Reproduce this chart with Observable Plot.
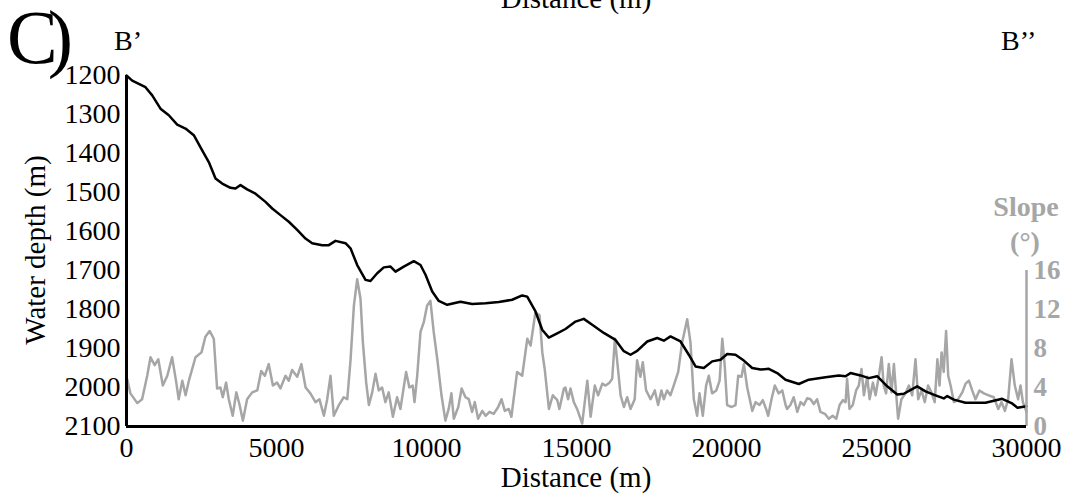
<!DOCTYPE html>
<html>
<head>
<meta charset="utf-8">
<script src="https://cdn.jsdelivr.net/npm/d3@7"></script>
<script src="https://cdn.jsdelivr.net/npm/@observablehq/plot@0.6"></script>
<style>
  html, body { margin: 0; padding: 0; background: #fff; overflow: hidden; }
  #wrap { position: relative; width: 1069px; height: 493px; }
  #wrap > svg { position: absolute; left: 0; top: 0; }
  #overlay { pointer-events: none; font-family: "Liberation Serif", "Times New Roman", serif; }
</style>
</head>
<body>
<div id="wrap"></div>
<script>
// ---- Data ----
const distTicks = [0, 5000, 10000, 15000, 20000, 25000, 30000];
const depthTicks = [1200, 1300, 1400, 1500, 1600, 1700, 1800, 1900, 2000, 2100];
const slopeTicks = [0, 4, 8, 12, 16];

// Water depth profile (black)
const depthDist = [0,190,633,857,1133,1410,1690,1967,2243,2523,2743,2967,3190,3467,3633,3800,4023,4300,4633,4857,5133,5410,5690,5967,6190,6523,6743,6967,7300,7467,7690,7967,8133,8357,8577,8800,8967,9243,9577,9800,9967,10190,10410,10690,11133,11523,11967,12410,12857,13190,13357,13633,13857,14077,14357,14633,14967,15243,15523,15910,16300,16577,16800,17023,17357,17690,17910,18133,18467,18743,18967,19243,19523,19800,20023,20300,20577,20857,21133,21410,21690,21967,22410,22743,23300,23743,23967,24133,24467,24743,25023,25357,25690,25910,26357,26633,26967,27243,27357,27577,27967,28633,29190,29500,29700,30000];
const depthVal = [1200,1213,1230,1251,1285,1302,1326,1336,1353,1392,1422,1464,1477,1488,1490,1481,1492,1503,1524,1541,1558,1575,1596,1618,1630,1635,1635,1624,1630,1643,1686,1724,1727,1707,1692,1690,1703,1690,1676,1686,1711,1754,1778,1788,1780,1786,1784,1781,1775,1764,1767,1805,1852,1872,1861,1850,1831,1824,1839,1860,1878,1907,1916,1906,1882,1873,1880,1869,1882,1916,1946,1950,1933,1929,1914,1916,1931,1950,1954,1952,1963,1980,1991,1980,1974,1969,1971,1963,1969,1976,1971,1997,2018,2016,1997,2010,2020,2028,2022,2031,2039,2039,2029,2040,2052,2048];

// Slope profile (grey, degrees)
const slopeDist = [20,130,360,520,690,800,940,1060,1210,1360,1520,1660,1740,1860,1970,2080,2300,2500,2630,2770,2910,3020,3130,3210,3320,3410,3540,3660,3770,3880,4020,4190,4360,4490,4610,4740,4880,5020,5130,5300,5410,5520,5690,5830,5970,6130,6300,6430,6580,6690,6800,6910,7080,7240,7360,7470,7580,7690,7800,7880,7990,8080,8190,8300,8410,8520,8630,8740,8880,9020,9130,9320,9430,9540,9600,9690,9800,9910,10020,10130,10240,10360,10500,10630,10740,10830,10910,11060,11170,11300,11410,11520,11610,11720,11860,11970,12100,12240,12390,12500,12610,12740,12830,13020,13190,13360,13470,13630,13770,13860,13940,14080,14210,14360,14430,14580,14630,14720,14800,14910,15020,15190,15360,15470,15610,15720,15860,15970,16100,16190,16280,16360,16470,16580,16690,16800,16940,17020,17130,17210,17320,17470,17610,17720,17830,17910,18020,18130,18240,18390,18520,18690,18800,18910,19020,19100,19210,19320,19410,19520,19660,19770,19860,19940,20020,20170,20300,20390,20500,20580,20690,20860,20970,21100,21210,21320,21390,21500,21610,21740,21860,21970,22020,22130,22240,22360,22470,22580,22690,22800,22910,23020,23130,23280,23410,23540,23660,23770,23880,23970,24020,24100,24210,24320,24410,24500,24580,24690,24770,24880,24970,25080,25170,25240,25320,25410,25500,25580,25660,25720,25830,25970,26080,26190,26300,26390,26500,26610,26720,26830,26940,27030,27100,27170,27240,27320,27390,27470,27580,27720,27860,27970,28080,28190,28300,28430,28580,28740,28910,29060,29170,29280,29390,29500,29610,29720,29800,29880,29940,30000];
const slopeVal = [4.9,3.4,2.4,2.8,5.2,7.1,6.3,6.9,4.2,5.2,7.1,4.5,2.8,4.7,3.2,4.7,7.1,7.6,9.2,9.8,9.0,3.9,4.0,3.0,4.5,2.8,1.1,3.5,2.2,0.6,2.8,3.5,3.7,5.7,5.2,6.4,4.2,4.5,3.9,5.2,4.7,5.8,5.1,6.4,4.0,3.4,2.5,2.8,1.1,2.8,5.2,1.1,2.2,3.0,2.8,6.9,12.4,15.1,13.1,8.6,4.5,2.2,3.5,5.4,3.7,4.0,2.5,3.5,1.0,3.0,1.8,5.6,4.0,4.2,2.5,5.2,9.7,10.7,12.4,12.9,9.7,6.9,3.2,0.6,1.8,3.4,0.8,2.0,3.9,3.0,2.8,1.5,2.5,0.8,1.6,1.1,1.5,1.3,2.0,2.8,1.6,1.8,1.0,5.6,5.2,9.0,8.3,11.7,11.4,7.6,5.9,1.8,3.2,2.7,1.8,3.9,4.0,2.8,3.9,2.5,1.8,0.3,4.7,1.0,4.2,3.2,4.4,4.2,4.5,4.9,9.0,6.6,3.2,2.0,3.0,1.8,2.8,6.8,5.1,6.6,3.7,2.8,3.7,2.2,3.7,2.8,3.7,3.2,4.2,5.6,8.6,11.0,8.6,2.8,1.1,3.4,1.1,4.2,5.2,3.4,3.7,4.7,9.0,6.3,2.2,2.0,2.2,5.2,5.1,6.4,4.0,1.6,2.5,2.2,2.7,1.8,1.1,2.8,4.2,3.4,3.7,2.2,1.8,2.2,3.0,1.5,2.5,2.2,2.9,2.8,2.3,2.8,1.5,1.3,0.8,1.1,0.8,2.2,2.7,2.5,4.9,1.8,2.2,3.7,4.2,5.9,3.2,5.1,2.8,4.5,3.2,5.2,7.1,4.2,3.4,6.4,3.5,6.4,3.2,0.8,2.8,3.4,4.2,3.2,6.9,2.8,3.7,2.5,4.2,3.5,2.5,6.9,4.2,7.6,5.6,9.8,5.2,4.2,2.5,2.8,3.5,4.4,4.7,3.7,2.8,3.7,3.4,3.2,3.0,1.8,2.5,1.6,2.8,6.9,4.2,2.8,4.2,2.5,2.0,1.5];

// ---- Build tables ----
const depthData = depthDist.map((d, i) => ({d, z: depthVal[i]}));
const slopeData = slopeDist.map((d, i) => ({d, s: slopeVal[i]}));

// The slope axis (0–16°) shares the frame with the depth axis: 0° at 2100 m, 16° at 1700 m
const slopeToDepth = s => 2100 - 25 * s;

const GREY = "#a6a6a6";
const FONT = "'Liberation Serif', 'Times New Roman', serif";

const chart = Plot.plot({
  width: 1069,
  height: 493,
  marginLeft: 126,
  marginRight: 43,
  marginTop: 75,
  marginBottom: 67,
  style: {fontFamily: FONT, fontSize: "28px", background: "white", color: "black", overflow: "visible"},
  x: {domain: [0, 30000]},
  y: {domain: [1200, 2100], reverse: true},
  marks: [
    Plot.line(slopeData, {x: "d", y: d => slopeToDepth(d.s), stroke: GREY, strokeWidth: 2.5}),
    Plot.line(depthData, {x: "d", y: "z", stroke: "black", strokeWidth: 2.5}),
    Plot.ruleX([30000], {y1: slopeToDepth(16), y2: slopeToDepth(0), stroke: GREY, strokeWidth: 2.5}),
    Plot.ruleX([0], {y1: 1200, y2: 2100, stroke: "black", strokeWidth: 3}),
    Plot.ruleY([2100], {x1: 0, x2: 30000, stroke: "black", strokeWidth: 3}),
    Plot.axisX({ticks: distTicks, tickSize: 0, tickPadding: 11, tickFormat: d => String(d), label: null, fontSize: 28}),
    Plot.axisY({ticks: depthTicks, tickSize: 0, tickPadding: 6, tickFormat: d => String(d), label: null, fontSize: 28}),
    Plot.text(slopeTicks, {x: () => 30000, y: s => slopeToDepth(s), text: s => String(s), textAnchor: "start", dx: 7, fill: GREY, fontWeight: "bold", fontSize: 27})
  ]
});

const wrap = document.getElementById("wrap");
wrap.appendChild(chart);

// ---- Annotations (titles, axis titles, section labels) ----
const NS = "http://www.w3.org/2000/svg";
const ov = document.createElementNS(NS, "svg");
ov.setAttribute("id", "overlay");
ov.setAttribute("width", 1069);
ov.setAttribute("height", 493);
function addText(txt, attrs) {
  const t = document.createElementNS(NS, "text");
  for (const k in attrs) t.setAttribute(k, attrs[k]);
  t.textContent = txt;
  ov.appendChild(t);
  return t;
}
addText("Distance (m)", {x: 576, y: 8, "text-anchor": "middle", "font-size": 29, fill: "black"});
addText("C)", {x: 7, y: 63, "font-size": 76, fill: "black", "letter-spacing": -10});
addText("B\u2019", {x: 114, y: 50, "font-size": 28, fill: "black"});
addText("B\u2019\u2019", {x: 1001, y: 50, "font-size": 28, fill: "black"});
addText("Slope", {x: 1026, y: 216, "text-anchor": "middle", "font-size": 28, "font-weight": "bold", fill: GREY});
addText("(\u00B0)", {x: 1025, y: 251, "text-anchor": "middle", "font-size": 28, "font-weight": "bold", fill: GREY});
addText("Water depth (m)", {x: 0, y: 0, "text-anchor": "middle", "font-size": 29, fill: "black", transform: "translate(45,250) rotate(-90)"});
addText("Distance (m)", {x: 576, y: 487, "text-anchor": "middle", "font-size": 29, fill: "black"});
wrap.appendChild(ov);
</script>
</body>
</html>
